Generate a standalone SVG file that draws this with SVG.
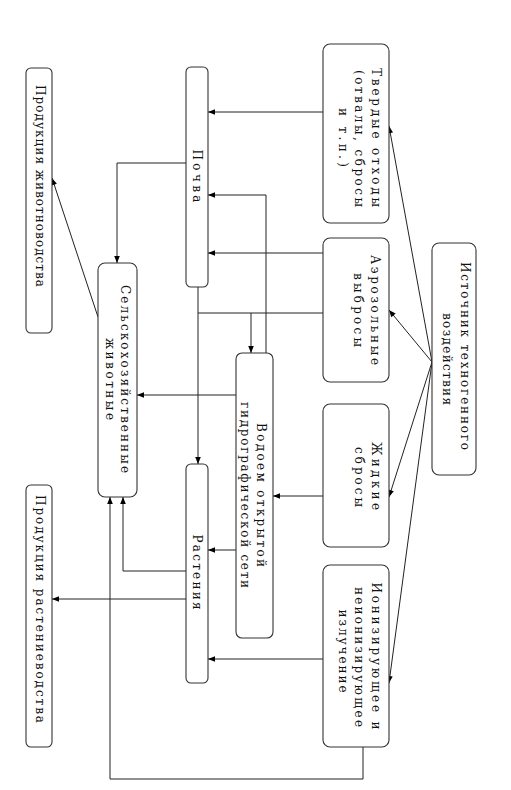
<svg xmlns="http://www.w3.org/2000/svg" width="511" height="790" viewBox="0 0 511 790">
<style>
.box{fill:#fff;stroke:#333;stroke-width:1.1}
.ln{fill:none;stroke:#222;stroke-width:1}
text{font-family:"DejaVu Serif","Liberation Serif",serif;font-size:12px;fill:#111;text-anchor:middle}
.st{text-anchor:start}
</style>
<defs>
<marker id="ar" viewBox="0 0 10 10" refX="10" refY="5" markerWidth="10" markerHeight="7" markerUnits="userSpaceOnUse" orient="auto">
<path d="M0,1 L10,5 L0,9 Z" fill="#000"/>
</marker>
</defs>
<rect width="511" height="790" fill="#fff"/>
<g id="connectors">
<line class="ln" x1="432" y1="362" x2="389" y2="126" marker-end="url(#ar)"/>
<line class="ln" x1="432" y1="362" x2="389" y2="310" marker-end="url(#ar)"/>
<line class="ln" x1="432" y1="362" x2="389" y2="497" marker-end="url(#ar)"/>
<line class="ln" x1="432" y1="362" x2="389" y2="683" marker-end="url(#ar)"/>
<line class="ln" x1="323" y1="112" x2="208" y2="112" marker-end="url(#ar)"/>
<line class="ln" x1="323" y1="253" x2="208" y2="253" marker-end="url(#ar)"/>
<line class="ln" x1="323" y1="313" x2="198" y2="313"/>
<line class="ln" x1="251" y1="313" x2="251" y2="353" marker-end="url(#ar)"/>
<line class="ln" x1="198" y1="287" x2="198" y2="464" marker-end="url(#ar)"/>
<polyline class="ln" points="266,353 266,195 208,195" marker-end="url(#ar)"/>
<polyline class="ln" points="186,163 117,163 117,263" marker-end="url(#ar)"/>
<line class="ln" x1="236" y1="395" x2="137" y2="395" marker-end="url(#ar)"/>
<line class="ln" x1="236" y1="550" x2="208" y2="550" marker-end="url(#ar)"/>
<line class="ln" x1="323" y1="496" x2="273" y2="496" marker-end="url(#ar)"/>
<line class="ln" x1="323" y1="659" x2="208" y2="659" marker-end="url(#ar)"/>
<polyline class="ln" points="186,571 123,571 123,497" marker-end="url(#ar)"/>
<line class="ln" x1="186" y1="599" x2="52" y2="599" marker-end="url(#ar)"/>
<polyline class="ln" points="363,747 363,779 110,779 110,497" marker-end="url(#ar)"/>
<line class="ln" x1="98" y1="317" x2="52" y2="178" marker-end="url(#ar)"/>
</g>
<g id="tverdye">
<rect class="box" x="323" y="44" width="66" height="179" rx="7"/>
<text transform="translate(376,137.5) rotate(90)" dy=".35em" textLength="139" lengthAdjust="spacing">Твердые отходы</text>
<text transform="translate(359,138.5) rotate(90)" dy=".35em" textLength="137" lengthAdjust="spacing">(отвалы, сбросы</text>
<text transform="translate(343,137.5) rotate(90)" dy=".35em" textLength="59" lengthAdjust="spacing">и т.п.)</text>
</g>
<g id="aerozol">
<rect class="box" x="323" y="238" width="66" height="144" rx="7"/>
<text transform="translate(375,310) rotate(90)" dy=".35em" textLength="110" lengthAdjust="spacing">Аэрозольные</text>
<text transform="translate(358,310) rotate(90)" dy=".35em" textLength="74" lengthAdjust="spacing">выбросы</text>
</g>
<g id="zhidkie">
<rect class="box" x="323" y="404" width="66" height="143" rx="7"/>
<text transform="translate(376,476) rotate(90)" dy=".35em" textLength="68" lengthAdjust="spacing">Жидкие</text>
<text transform="translate(359,477) rotate(90)" dy=".35em" textLength="60" lengthAdjust="spacing">сбросы</text>
</g>
<g id="ioniz">
<rect class="box" x="323" y="565" width="66" height="182" rx="7"/>
<text transform="translate(376,656) rotate(90)" dy=".35em" textLength="147" lengthAdjust="spacing">Ионизирующее и</text>
<text transform="translate(359,657) rotate(90)" dy=".35em" textLength="140" lengthAdjust="spacing">неионизирующее</text>
<text transform="translate(343,651) rotate(90)" dy=".35em" textLength="83" lengthAdjust="spacing">излучение</text>
</g>
<g id="istochnik">
<rect class="box" x="432" y="243" width="44" height="232" rx="7"/>
<text transform="translate(465,356) rotate(90)" dy=".35em" textLength="188" lengthAdjust="spacing">Источник техногенного</text>
<text transform="translate(447,359) rotate(90)" dy=".35em" textLength="92" lengthAdjust="spacing">воздействия</text>
</g>
<g id="pochva">
<rect class="box" x="186" y="67" width="22" height="220" rx="5"/>
<text transform="translate(197,176) rotate(90)" dy=".35em" textLength="53" lengthAdjust="spacing">Почва</text>
</g>
<g id="vodoem">
<rect class="box" x="236" y="353" width="37" height="285" rx="6"/>
<text transform="translate(261,495) rotate(90)" dy=".35em" textLength="144" lengthAdjust="spacing">Водоем открытой</text>
<text transform="translate(245,495) rotate(90)" dy=".35em" textLength="186" lengthAdjust="spacing">гидрографической сети</text>
</g>
<g id="rasteniya">
<rect class="box" x="186" y="464" width="22" height="219" rx="5"/>
<text transform="translate(197,572) rotate(90)" dy=".35em" textLength="75" lengthAdjust="spacing">Растения</text>
</g>
<g id="selhoz">
<rect class="box" x="98" y="263" width="39" height="234" rx="7"/>
<text transform="translate(125,379) rotate(90)" dy=".35em" textLength="188" lengthAdjust="spacing">Сельскохозяйственные</text>
<text transform="translate(110,379) rotate(90)" dy=".35em" textLength="82" lengthAdjust="spacing">животные</text>
</g>
<g id="prod-zhiv">
<rect class="box" x="26" y="68" width="26" height="265" rx="5"/>
<text class="st" transform="translate(40,85) rotate(90)" dy=".35em" textLength="202" lengthAdjust="spacing">Продукция животноводства</text>
</g>
<g id="prod-rast">
<rect class="box" x="26" y="485" width="26" height="262" rx="5"/>
<text class="st" transform="translate(40,495) rotate(90)" dy=".35em" textLength="228" lengthAdjust="spacing">Продукция растениеводства</text>
</g>
</svg>
